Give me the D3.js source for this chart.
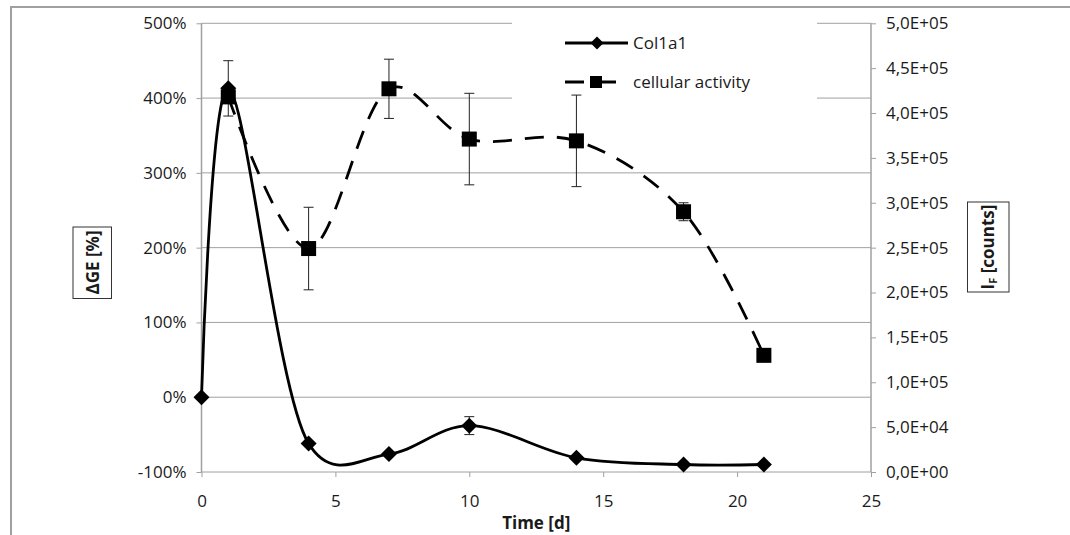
<!DOCTYPE html>
<html>
<head>
<meta charset="utf-8">
<script src="https://cdn.jsdelivr.net/npm/d3@7"></script>
<style>
  body { margin: 0; background: #fff; }
  text { font-family: "Open Sans", sans-serif; fill: #1a1a1a; }
</style>
</head>
<body>
<script>
const svgW = 1070;
const svgH = 535;

// Col1a1 gene expression change (left axis, %)
const days = [0, 1, 4, 7, 10, 14, 18, 21];
const col1a1 = [0, 413, -62, -76, -38, -81, -90, -90];
const col1a1Err = [0, 37, 0, 0, 12, 0, 0, 0];

// cellular activity (right axis, counts)
const actDays = [1, 4, 7, 10, 14, 18, 21];
const activity = [418000, 249000, 427000, 371000, 369000, 290000, 130000];
const activityErr = [0, 46000, 33000, 51000, 51000, 10000, 0];

const xTicks = [0, 5, 10, 15, 20, 25];
const leftTicks = [-100, 0, 100, 200, 300, 400, 500];
const leftLabels = ['-100%', '0%', '100%', '200%', '300%', '400%', '500%'];
const rightTicks = [0, 50000, 100000, 150000, 200000, 250000, 300000, 350000, 400000, 450000, 500000];
const rightLabels = ['0,0E+00', '5,0E+04', '1,0E+05', '1,5E+05', '2,0E+05', '2,5E+05',
                     '3,0E+05', '3,5E+05', '4,0E+05', '4,5E+05', '5,0E+05'];

const fontSize = '17px';

const svg = d3.select('body').append('svg')
  .attr('width', svgW)
  .attr('height', svgH);

// outer chart border (only top and left visible)
svg.append('rect')
  .attr('x', 11).attr('y', 7)
  .attr('width', 1100).attr('height', 600)
  .attr('fill', 'none')
  .attr('stroke', '#a0a0a0')
  .attr('stroke-width', 2);

const x = d3.scaleLinear().domain([0, 25]).range([201.5, 871]);
const yL = d3.scaleLinear().domain([-100, 500]).range([472, 23.3]);
const yR = d3.scaleLinear().domain([0, 500000]).range([472, 23.3]);

// gridlines
svg.append('g').selectAll('line')
  .data(leftTicks)
  .enter().append('line')
  .attr('x1', x(0)).attr('x2', x(25))
  .attr('y1', d => yL(d)).attr('y2', d => yL(d))
  .attr('stroke', '#a0a0a0')
  .attr('stroke-width', 1);

// axes
const axisLeft = svg.append('g')
  .attr('transform', `translate(${x(0)},0)`)
  .call(d3.axisLeft(yL).tickValues(leftTicks).tickSize(5).tickPadding(10)
    .tickFormat((d, i) => leftLabels[i]));

const axisRight = svg.append('g')
  .attr('transform', `translate(${x(25)},0)`)
  .call(d3.axisRight(yR).tickValues(rightTicks).tickSize(5).tickPadding(10)
    .tickFormat((d, i) => rightLabels[i]));

const axisBottom = svg.append('g')
  .attr('transform', `translate(0,${yL(-100)})`)
  .call(d3.axisBottom(x).tickValues(xTicks).tickSize(5).tickPadding(18));

[axisLeft, axisRight, axisBottom].forEach(a => {
  a.select('.domain').attr('stroke', '#a0a0a0').attr('stroke-width', 1.5);
  a.selectAll('.tick line').attr('stroke', '#a0a0a0');
  a.selectAll('.tick text')
    .style('font-family', '"Open Sans", sans-serif')
    .style('font-size', fontSize)
    .attr('fill', '#1a1a1a');
});
axisLeft.select('.domain').attr('d', `M0,${yL(500)}V${yL(-100)}`);
axisRight.select('.domain').attr('d', `M0,${yR(500000)}V${yR(0)}`);
axisBottom.select('.domain').remove();

// legend background (hides gridlines behind it)
svg.append('rect')
  .attr('x', 512).attr('y', 14)
  .attr('width', 305).attr('height', 90)
  .attr('fill', '#fff');

// axis titles
svg.append('text')
  .attr('x', x(12.5)).attr('y', 529)
  .attr('text-anchor', 'middle')
  .style('font-size', fontSize)
  .style('font-weight', 'bold')
  .text('Time [d]');

svg.append('rect')
  .attr('x', 73).attr('y', 227)
  .attr('width', 38.5).attr('height', 71.5)
  .attr('fill', 'none').attr('stroke', '#333').attr('stroke-width', 1);
svg.append('text')
  .attr('transform', 'translate(98.5,262.5) rotate(-90)')
  .attr('text-anchor', 'middle')
  .style('font-size', fontSize)
  .style('font-weight', 'bold')
  .text('ΔGE [%]');

svg.append('rect')
  .attr('x', 967.5).attr('y', 202)
  .attr('width', 41.5).attr('height', 90)
  .attr('fill', 'none').attr('stroke', '#333').attr('stroke-width', 1);
const rt = svg.append('text')
  .attr('transform', 'translate(994,247) rotate(-90)')
  .attr('text-anchor', 'middle')
  .style('font-size', fontSize)
  .style('font-weight', 'bold');
rt.append('tspan').text('I');
rt.append('tspan').attr('dy', 3).style('font-size', '11px').text('F');
rt.append('tspan').attr('dy', -3).text(' [counts]');

// error bars
function errorBars(xs, ys, errs, yScale) {
  const data = xs.map((d, i) => ({ x: d, y: ys[i], e: errs[i] })).filter(d => d.e > 0);
  const g = svg.append('g').attr('stroke', '#222').attr('stroke-width', 1);
  data.forEach(d => {
    const px = x(d.x), top = yScale(d.y + d.e), bot = yScale(d.y - d.e);
    g.append('line').attr('x1', px).attr('x2', px).attr('y1', top).attr('y2', bot);
    g.append('line').attr('x1', px - 5).attr('x2', px + 5).attr('y1', top).attr('y2', top);
    g.append('line').attr('x1', px - 5).attr('x2', px + 5).attr('y1', bot).attr('y2', bot);
  });
}
errorBars(days, col1a1, col1a1Err, yL);
errorBars(actDays, activity, activityErr, yR);

// lines (smoothed like Excel)
const lineL = d3.line()
  .x((d, i) => x(days[i]))
  .y(d => yL(d))
  .curve(d3.curveCatmullRom.alpha(0.2));
const lineR = d3.line()
  .x((d, i) => x(actDays[i]))
  .y(d => yR(d))
  .curve(d3.curveCatmullRom.alpha(0.2));

svg.append('path')
  .attr('d', lineR(activity))
  .attr('fill', 'none')
  .attr('stroke', '#000')
  .attr('stroke-width', 2.8)
  .attr('stroke-dasharray', '19,13');

svg.append('path')
  .attr('d', lineL(col1a1))
  .attr('fill', 'none')
  .attr('stroke', '#000')
  .attr('stroke-width', 2.8);

// markers
const diamond = d3.symbol().type(d3.symbolSquare).size(128);
svg.append('g').selectAll('path')
  .data(col1a1)
  .enter().append('path')
  .attr('d', diamond)
  .attr('transform', (d, i) => `translate(${x(days[i])},${yL(d)}) rotate(45)`)
  .attr('fill', '#000');

svg.append('g').selectAll('rect')
  .data(activity)
  .enter().append('rect')
  .attr('x', (d, i) => x(actDays[i]) - 7.5)
  .attr('y', d => yR(d) - 7.5)
  .attr('width', 15).attr('height', 15)
  .attr('fill', '#000');

// legend
const leg = svg.append('g');
leg.append('line')
  .attr('x1', 565).attr('x2', 628).attr('y1', 43).attr('y2', 43)
  .attr('stroke', '#000').attr('stroke-width', 2.8);
leg.append('path')
  .attr('d', d3.symbol().type(d3.symbolSquare).size(84))
  .attr('transform', 'translate(597,43) rotate(45)')
  .attr('fill', '#000');
leg.append('text')
  .attr('x', 633).attr('y', 43).attr('dy', '0.35em')
  .style('font-size', fontSize)
  .text('Col1a1');

leg.append('line')
  .attr('x1', 565).attr('x2', 621).attr('y1', 82).attr('y2', 82)
  .attr('stroke', '#000').attr('stroke-width', 2.8)
  .attr('stroke-dasharray', '19,13');
leg.append('rect')
  .attr('x', 590).attr('y', 76)
  .attr('width', 12).attr('height', 12)
  .attr('fill', '#000');
leg.append('text')
  .attr('x', 633).attr('y', 82).attr('dy', '0.35em')
  .style('font-size', fontSize)
  .text('cellular activity');
</script>
</body>
</html>
